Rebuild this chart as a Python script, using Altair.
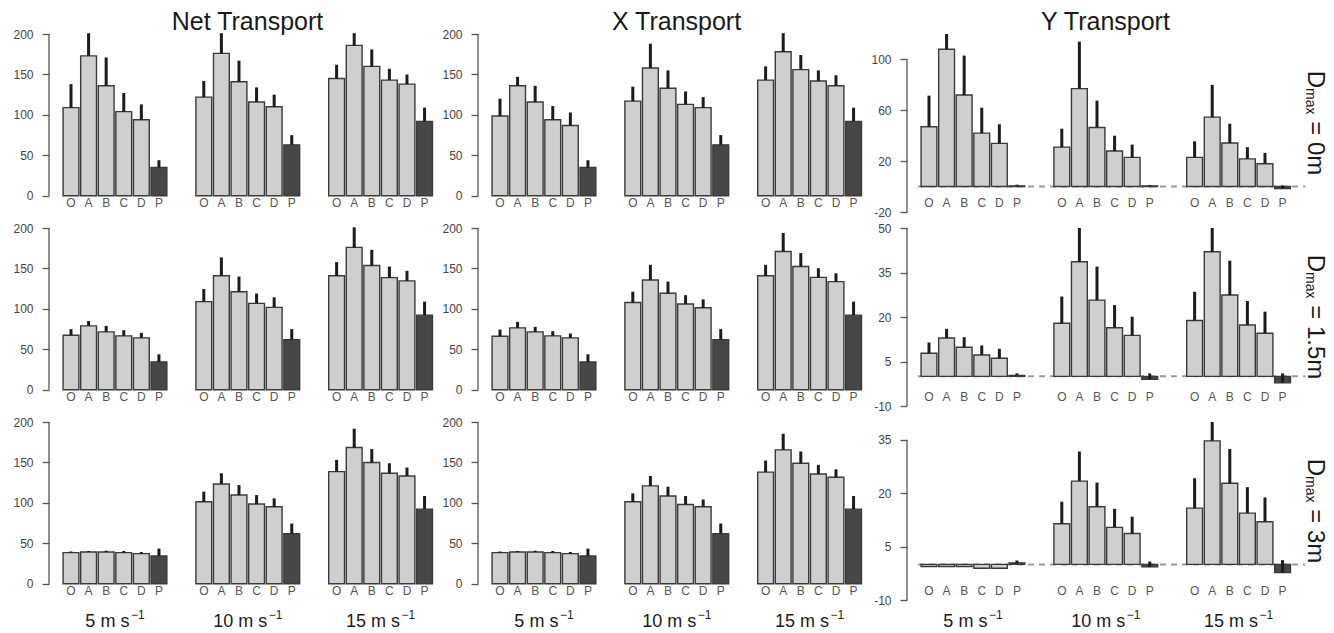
import altair as alt
import pandas as pd

# ---------------------------------------------------------------- data
CATEGORIES = ["O", "A", "B", "C", "D", "P"]
SPEED_LABELS = ["5 m s", "10 m s", "15 m s"]
DMAX_LABELS = ["0m", "1.5m", "3m"]
GROUP_TITLES = ["Net Transport", "X Transport", "Y Transport"]

# bar heights and upper ends of the error bars; one inner list per wind speed (5, 10, 15 m/s)
NET_D0_MEAN = [[109, 173, 136, 104, 94, 35], [122, 176, 141, 116, 110, 63], [145, 186, 160, 143, 138, 92]]
NET_D0_UPPER = [[138, 201, 171, 127, 113, 44], [142, 201, 167, 134, 125, 75], [162, 201, 181, 157, 150, 109]]
NET_D15_MEAN = [[67.5, 79, 71.6, 66.7, 64.2, 34.4], [109, 141, 121.3, 106.8, 101.9, 62], [141, 176, 153.6, 138.7, 134.6, 92.3]]
NET_D15_UPPER = [[75, 85, 79, 73.7, 70.4, 43.9], [124.6, 163.6, 140, 119, 114.3, 75], [157.8, 200.8, 173, 152.4, 147, 109]]
NET_D3_MEAN = [[38.5, 39.3, 39.3, 38.5, 37.3, 34.4], [101.4, 123.4, 109.7, 98.6, 95.2, 62], [138.7, 168.5, 150, 136.6, 133.3, 92.3]]
NET_D3_UPPER = [[40, 40.6, 41, 40.6, 39.3, 43.5], [113.9, 136.6, 122, 109.7, 105.6, 74.5], [153.2, 191.7, 166.5, 149, 143.7, 108.5]]

X_D0_MEAN = [[98.6, 136, 116, 94, 87, 35], [117, 158, 133, 113, 109, 63], [143, 178, 156, 142, 136, 92]]
X_D0_UPPER = [[120, 147, 136, 111, 103, 44], [135, 188, 155, 129, 122, 75], [160, 201, 174, 155, 149, 109]]
X_D15_MEAN = [[66.3, 76.6, 71.6, 66.7, 64.2, 34.4], [108, 135.8, 119.3, 106, 101.4, 62], [141, 171, 152.4, 139, 133.7, 92.3]]
X_D15_UPPER = [[74.5, 84, 77.8, 72.5, 69.6, 43.9], [121.3, 154.5, 133.7, 117, 111.8, 75], [154.5, 193.8, 169, 150.3, 144, 109]]
X_D3_MEAN = [[38.5, 39.3, 39.3, 38.5, 37.3, 34.4], [101.4, 121, 108.5, 98, 95.2, 62], [138, 165.6, 149, 135.8, 131.7, 92.3]]
X_D3_UPPER = [[40, 40.6, 41, 40.6, 39.3, 43.5], [111.8, 133.3, 120, 108.5, 104.3, 74.5], [152.4, 185.5, 163.6, 147, 141.6, 108.5]]

Y_D0_MEAN = [[47, 108, 72, 42, 34, 0.5], [31, 77, 46.5, 28, 23, 0.5], [23, 54.6, 34.3, 21.8, 18, -1.5]]
Y_D0_UPPER = [[71.5, 120, 103, 62, 49, 1.5], [45.5, 114, 67.6, 40, 33, 1.2], [35.6, 80, 49.4, 31, 26.5, 0.8]]
Y_D15_MEAN = [[7.8, 12.9, 9.8, 7.2, 6.1, 0.3], [17.9, 38.6, 25.7, 16.4, 13.8, -1], [18.8, 42, 27.4, 17.3, 14.5, -2.2]]
Y_D15_UPPER = [[11.4, 16, 13.2, 10.4, 9.3, 1], [26.9, 50, 37, 24, 20.1, 1], [28.5, 50, 39, 25.4, 21.8, 1]]
Y_D3_MEAN = [[-0.6, -0.6, -0.6, -1.1, -1.1, 0.4], [11.4, 23.4, 16.2, 10.4, 8.7, -0.7], [15.8, 34.7, 22.8, 14.4, 12, -2.3]]
Y_D3_UPPER = [[-0.6, -0.6, -0.6, -1.1, -1.1, 1.1], [17.6, 31.7, 23, 15.6, 13.4, 0.8], [24.2, 40, 32.4, 21.7, 18.8, 1.2]]

# y axes: tick values and the scale domain of each row
NET_TICKS = [0, 50, 100, 150, 200]
NET_DOMAIN = [-20, 200]
Y_TICKS = [[-20, 20, 60, 100], [-10, 5, 20, 35, 50], [-10, 5, 20, 35]]
Y_DOMAINS = [[-20, 120], [-10, 50], [-10, 40]]

# ---------------------------------------------------------------- layout
PANEL_W = 387
ROW_H = 178
X_DOMAIN = [-1.25, 20.75]
PANEL_STEP = 7.55
HALF_BAR = 0.45
ZERO_SPAN = [-0.625, 21.4]
PPU = PANEL_W / (X_DOMAIN[1] - X_DOMAIN[0])
FONT = "Liberation Sans"

# Arial-metric advance widths (per 1000 em) used to place composite labels
ADV = {" ": 278, "m": 833, "s": 500, "a": 556, "x": 500, "D": 722, "=": 584, ".": 278, "\u2212": 584}


def text_w(s, size):
    return sum(ADV.get(c, 556) for c in s) * size / 1000.0


def bar_frame(mean, upper):
    rows = []
    for s, (ms, us) in enumerate(zip(mean, upper)):
        for i, cat in enumerate(CATEGORIES):
            x = s * PANEL_STEP + i
            rows.append({"x": x, "x0": x - HALF_BAR, "x1": x + HALF_BAR, "mean": ms[i],
                         "upper": us[i], "cat": cat, "kind": "P" if cat == "P" else "model"})
    return pd.DataFrame(rows)


def make_group(mean, upper, ticks, domain, title=None, speeds=False, dmax=None, zero_line=False):
    df = bar_frame(mean, upper)
    xs = alt.Scale(domain=X_DOMAIN, nice=False, zero=False)
    ys = alt.Scale(domain=domain, nice=False, zero=False)
    yaxis = alt.Axis(values=ticks, tickSize=7, tickWidth=1.3, tickColor="#555555",
                     labelColor="#444444", labelFontSize=12, labelFont=FONT, labelPadding=9,
                     domain=False, grid=False, title=None, labelExpr="'' + datum.value")

    def yenc(field):
        return alt.Y(field, scale=ys, axis=yaxis)

    def xenc(field):
        return alt.X(field, scale=xs, axis=None)

    layers = []

    if zero_line:
        zl = pd.DataFrame({"a": [ZERO_SPAN[0]], "b": [ZERO_SPAN[1]], "z": [0]})
        layers.append(alt.Chart(zl).mark_rule(color="#9a9a9a", strokeWidth=2, strokeDash=[6, 5]).encode(
            x=xenc("a:Q"), x2="b:Q", y=yenc("z:Q")))

    layers.append(alt.Chart(df).mark_bar(stroke="#3a3a3a", strokeWidth=1.4).encode(
        x=xenc("x0:Q"), x2="x1:Q", y=yenc("mean:Q"), y2=alt.datum(0),
        fill=alt.Fill("kind:N", scale=alt.Scale(domain=["model", "P"], range=["#cfcfcf", "#474747"]),
                      legend=None)))

    layers.append(alt.Chart(df).mark_rule(color="#1c1c1c", strokeWidth=3).encode(
        x=xenc("x:Q"), y=yenc("mean:Q"), y2="upper:Q"))

    # axis line running from the first to the last tick
    span = pd.DataFrame({"lo": [ticks[0]], "hi": [ticks[-1]]})
    layers.append(alt.Chart(span).mark_rule(color="#555555", strokeWidth=1.3).encode(
        x=alt.value(0), y=yenc("lo:Q"), y2="hi:Q"))

    # category names under the bars
    layers.append(alt.Chart(df).mark_text(fontSize=12, color="#555555", font=FONT, baseline="middle").encode(
        x=xenc("x:Q"), y=alt.value(169), text="cat:N"))

    if title:
        layers.append(alt.Chart(pd.DataFrame({"t": [title]})).mark_text(
            fontSize=25, color="#1a1a1a", font=FONT, align="center", baseline="alphabetic").encode(
            x=alt.value(PANEL_W / 2 + 5), y=alt.value(-4), text="t:N"))

    if speeds:
        rows = []
        for s, lab in enumerate(SPEED_LABELS):
            centre = (s * PANEL_STEP + 2.5 - X_DOMAIN[0]) * PPU
            mw, sw = text_w(lab, 18), text_w("\u22121", 12)
            left = centre - (mw + 1.5 + sw) / 2
            rows.append({"main": lab, "sup": "\u22121",
                         "xm": X_DOMAIN[0] + left / PPU,
                         "xs": X_DOMAIN[0] + (left + mw + 1.5) / PPU})
        sp = pd.DataFrame(rows)
        layers.append(alt.Chart(sp).mark_text(fontSize=18, color="#1a1a1a", font=FONT, align="left",
                                              baseline="alphabetic").encode(
            x=xenc("xm:Q"), y=alt.value(205), text="main:N"))
        layers.append(alt.Chart(sp).mark_text(fontSize=12, color="#1a1a1a", font=FONT, align="left",
                                              baseline="alphabetic").encode(
            x=xenc("xs:Q"), y=alt.value(197), text="sup:N"))

    if dmax:
        rest = "= " + dmax
        wd, wsub = text_w("D", 24), text_w("max", 14)
        total = wd + wsub + text_w(" ", 24) + text_w(rest, 24)
        start = ROW_H / 2 - total / 2
        parts = [("D", 24, 0, 0), ("max", 14, wd, 2), (rest, 24, wd + wsub + text_w(" ", 24), 0)]
        for txt, size, dx, dy in parts:
            layers.append(alt.Chart(pd.DataFrame({"t": [txt]})).mark_text(
                fontSize=size, color="#1a1a1a", font=FONT, align="left", baseline="alphabetic",
                angle=90, dx=dx, dy=dy).encode(
                x=alt.value(401), y=alt.value(start), text="t:N"))

    return alt.layer(*layers).properties(width=PANEL_W, height=ROW_H)


net = [(NET_D0_MEAN, NET_D0_UPPER), (NET_D15_MEAN, NET_D15_UPPER), (NET_D3_MEAN, NET_D3_UPPER)]
xtr = [(X_D0_MEAN, X_D0_UPPER), (X_D15_MEAN, X_D15_UPPER), (X_D3_MEAN, X_D3_UPPER)]
ytr = [(Y_D0_MEAN, Y_D0_UPPER), (Y_D15_MEAN, Y_D15_UPPER), (Y_D3_MEAN, Y_D3_UPPER)]

panels = []
for r in range(3):
    top = r == 0
    bottom = r == 2
    panels.append(make_group(*net[r], NET_TICKS, NET_DOMAIN,
                             title=GROUP_TITLES[0] if top else None, speeds=bottom))
    panels.append(make_group(*xtr[r], NET_TICKS, NET_DOMAIN,
                             title=GROUP_TITLES[1] if top else None, speeds=bottom))
    panels.append(make_group(*ytr[r], Y_TICKS[r], Y_DOMAINS[r],
                             title=GROUP_TITLES[2] if top else None, speeds=bottom,
                             dmax=DMAX_LABELS[r], zero_line=True))

chart = alt.concat(*panels, columns=3, spacing={"row": 16, "column": 42}, bounds="flush").properties(
    padding={"left": 12, "top": 10, "right": 0, "bottom": 0}
).configure(font=FONT, background="white").configure_view(strokeWidth=0)

chart.save("out.html", embed_options={"renderer": "svg", "actions": False})
